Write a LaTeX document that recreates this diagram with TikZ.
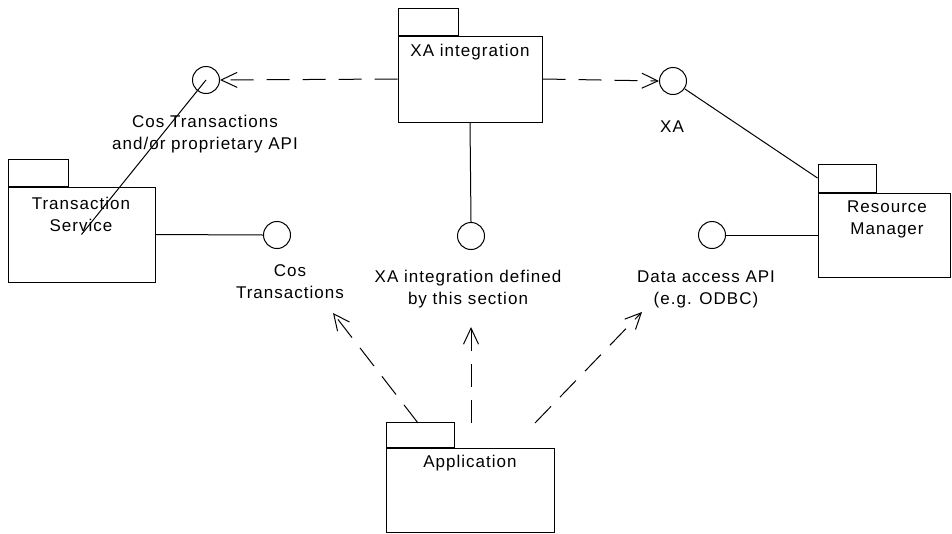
\documentclass[tikz,border=0pt]{standalone}
\usepackage{fontspec}
\setmainfont{Liberation Sans}[LetterSpace=6]
\usetikzlibrary{arrows.meta,calc}
\begin{document}
\begin{tikzpicture}[x=1pt,y=-1pt,
  line width=1pt,
  every node/.style={font=\fontsize{17}{22}\selectfont},
  pkgbody/.style={draw,rectangle,inner sep=0pt},
  pkgtab/.style={draw,rectangle,inner sep=0pt,anchor=south west},
  iface/.style={draw,circle,minimum size=27pt,inner sep=0pt},
  lbl/.style={align=center,inner sep=0pt},
  dep/.style={dash pattern=on 23pt off 13pt,-{Straight Barb[length=16pt,width=15pt,line width=1pt]}}
]
\useasboundingbox (0,0) rectangle (952,533);
% packages
\node[pkgbody,minimum width=147pt,minimum height=95pt] (ts) at (81.5,234.5) {};
\node[pkgtab,minimum width=60pt,minimum height=27pt] (tstab) at (ts.north west) {};
\node[lbl] (tstxt) at (81,214) {Transaction\\Service};

\node[pkgbody,minimum width=144pt,minimum height=86pt] (xa) at (470,79) {};
\node[pkgtab,minimum width=60pt,minimum height=27pt] (xatab) at (xa.north west) {};
\node[lbl] (xatxt) at (470,52) {XA integration};

\node[pkgbody,minimum width=132pt,minimum height=84pt] (rm) at (884,235) {};
\node[pkgtab,minimum width=58pt,minimum height=28pt] (rmtab) at (rm.north west) {};
\node[lbl] (rmtxt) at (887,219) {Resource\\Manager};

\node[pkgbody,minimum width=168pt,minimum height=84pt] (app) at (470,490) {};
\node[pkgtab,minimum width=68pt,minimum height=25pt] (apptab) at (app.north west) {};
\node[lbl] (apptxt) at (470,463) {Application};

% interfaces
\node[iface] (cL) at (206,80) {};
\node[iface] (cXA) at (673,81) {};
\node[iface] (cTS) at (277,235) {};
\node[iface] (cXI) at (471,236) {};
\node[iface] (cDA) at (712,235) {};

% labels
\node[lbl] (lL) at (205,134) {Cos Transactions\\and/or proprietary API};
\node[lbl] (lXA) at (672,127) {XA};
\node[lbl] (lTS) at (290,282) {Cos\\Transactions};
\node[lbl] (lXI) at (468,289) {XA integration defined\\by this section};
\node[lbl] (lDA) at (706,289) {Data access API\\(e.g. ODBC)};

% connectors
\draw[dep] (xa.west) -- (cL.east);
\draw[dep] (xa.east) -- (cXA.west);
\draw (xa.south) -- (cXI.north);
\draw (cXA) -- (rmtab.west);
\draw (cL.center) -- (ts.center);
\draw (ts.east) -- (cTS.west);
\draw (rm.west) -- (cDA.east);

\coordinate (a1s) at (418,423);
\coordinate (a1e) at (333,313);
\coordinate (a2s) at (471,423);
\coordinate (a2e) at (471,327);
\coordinate (a3s) at (535,423);
\coordinate (a3e) at (642,312);
\draw[dep] (a1s) -- (a1e);
\draw[dep] (a2s) -- (a2e);
\draw[dep] (a3s) -- (a3e);
\end{tikzpicture}
\end{document}
